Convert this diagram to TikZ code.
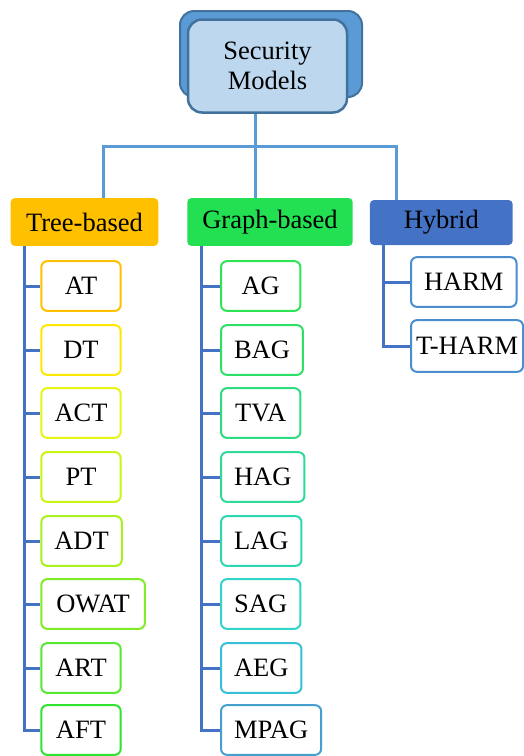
\documentclass[tikz,border=0pt]{standalone}
\usepackage{fontspec}
\setmainfont{Liberation Serif}
\definecolor{topfill}{HTML}{BDD7EE}
\definecolor{topshadow}{HTML}{5B9BD5}
\definecolor{topborder}{HTML}{41719C}
\definecolor{linelight}{HTML}{5B9BD5}
\definecolor{linedark}{HTML}{4472C4}
\definecolor{treecol}{HTML}{FFC000}
\definecolor{graphcol}{HTML}{22E052}
\definecolor{hybridcol}{HTML}{4472C4}
\definecolor{cAT}{HTML}{FFC000}
\definecolor{cDT}{HTML}{FFE800}
\definecolor{cACT}{HTML}{E6F514}
\definecolor{cPT}{HTML}{C8F514}
\definecolor{cADT}{HTML}{A8F01E}
\definecolor{cOWAT}{HTML}{7EEC28}
\definecolor{cART}{HTML}{55E830}
\definecolor{cAFT}{HTML}{2EE42E}
\definecolor{cAG}{HTML}{2EE455}
\definecolor{cBAG}{HTML}{2EE066}
\definecolor{cTVA}{HTML}{2EDC80}
\definecolor{cHAG}{HTML}{2EDA96}
\definecolor{cLAG}{HTML}{2ED8AE}
\definecolor{cSAG}{HTML}{30D4C8}
\definecolor{cAEG}{HTML}{35C0D8}
\definecolor{cMPAG}{HTML}{45A0D0}
\definecolor{cHyb}{HTML}{4A8ED0}
\begin{document}
\begin{tikzpicture}[x=1pt,y=-1pt,
  txt/.style={font=\fontsize{26.5}{30}\selectfont, text=black},
  topbox/.style={txt, draw=topborder, fill=topfill, line width=2.5pt, rounded corners=14pt,
    minimum width=159pt, minimum height=93pt, align=center, inner sep=0pt},
  catbox/.style={txt, rounded corners=4pt, inner sep=0pt, minimum height=47.7pt},
  leaf/.style={txt, fill=white, line width=2pt, rounded corners=6pt, minimum width=79.4pt,
    minimum height=49.7pt, inner xsep=13pt, inner ysep=0pt, anchor=west},
  topline/.style={draw=linelight, line width=3pt},
  branch/.style={draw=linedark, line width=3pt}]
\useasboundingbox (0,0) rectangle (523,756);
% top node with shadow
\draw[fill=topshadow, draw=topborder, line width=2pt, rounded corners=14pt] (180,11) rectangle (362,97);
\node[topbox] (top) at (267.5,66) {Security\\Models};
% categories
\node[catbox, fill=treecol, minimum width=147.6pt] (tree) at (84.5,222) {Tree-based};
\node[catbox, fill=graphcol, minimum width=165.4pt] (graph) at (270,222) {Graph-based};
\node[catbox, fill=hybridcol, minimum width=142.7pt, minimum height=45pt] (hybrid) at (441.3,222.5) {Hybrid};
% top connectors
\coordinate (hub) at (255.7,146);
\coordinate (tt) at ([xshift=18.8pt]tree.north);
\coordinate (gt) at ([xshift=-14.3pt]graph.north);
\coordinate (ht) at ([xshift=-45.3pt]hybrid.north);
\draw[topline] (top.south -| hub) -- (hub);
\draw[topline] (tt) |- (hub);
\draw[topline] (ht) |- (hub);
\draw[topline] (gt) -- (hub);
% tree leaves
\foreach \n/\y/\s in {AT/286/13,DT/350/13,ACT/413/13,PT/477/13,ADT/541/13,OWAT/604/15,ART/668/13,AFT/730/13}{
  \node[leaf, draw=c\n, inner xsep=\s pt] (\n) at (40.3,\y) {\n};
  \draw[branch] ([xshift=13.6pt]tree.south west) |- (\n.west);
}
% graph leaves
\foreach \n/\y in {AG/286,BAG/350,TVA/413,HAG/477,LAG/541,SAG/604,AEG/668,MPAG/730}{
  \node[leaf, draw=c\n] (\n) at (220,\y) {\n};
  \draw[branch] ([xshift=14.7pt]graph.south west) |- (\n.west);
}
% hybrid leaves
\node[leaf, draw=cHyb, inner xsep=13pt] (HARM) at (410,282) {HARM};
\node[leaf, draw=cHyb, inner xsep=5pt, minimum height=51.7pt] (THARM) at (410,346) {T-HARM};
\draw[branch] ([xshift=13.3pt]hybrid.south west) |- (HARM.west);
\draw[branch] ([xshift=13.3pt]hybrid.south west) |- (THARM.west);
\end{tikzpicture}
\end{document}
